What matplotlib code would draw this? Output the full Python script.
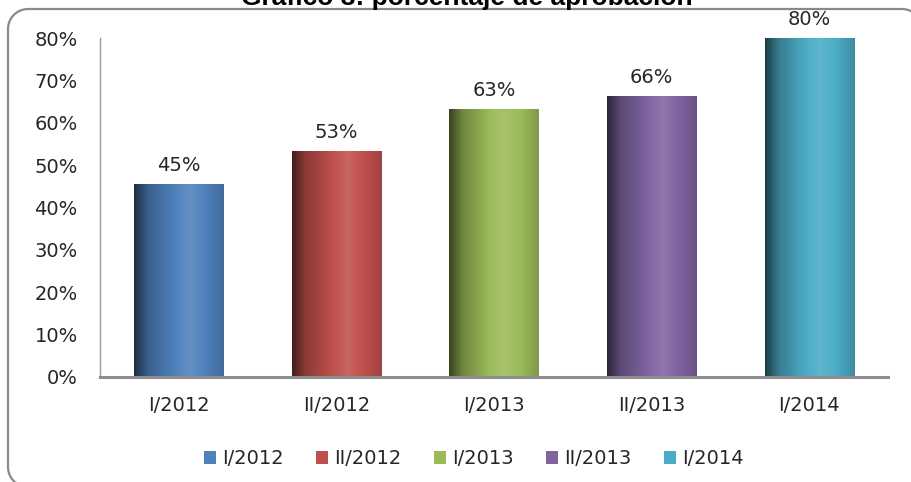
import matplotlib
matplotlib.use("Agg")
import matplotlib.pyplot as plt
import numpy as np
from matplotlib.patches import PathPatch, Patch
from matplotlib.path import Path

categories = ["I/2012", "II/2012", "I/2013", "II/2013", "I/2014"]
values = [0.455, 0.532, 0.632, 0.662, 0.80]
labels = ["45%", "53%", "63%", "66%", "80%"]
colors = ["#4F81BD", "#C0504D", "#9BBB59", "#8064A2", "#4BACC6"]
yticks = [0, 0.1, 0.2, 0.3, 0.4, 0.5, 0.6, 0.7, 0.8]
ytick_labels = ["0%", "10%", "20%", "30%", "40%", "50%", "60%", "70%", "80%"]
title = "Gráfico 3: porcentaje de aprobación"

W, H = 912, 482
fig = plt.figure(figsize=(W / 100, H / 100), dpi=100)
font = "DejaVu Sans"
fs = 14
tc = "#262626"

ax = fig.add_axes([100 / W, 1 - 377 / H, 788 / W, 339 / H])
ax.set_xlim(-0.5, len(categories) - 0.5)
ax.set_ylim(0, 0.8)

def shade(hexcol, n=200):
    base = np.array(matplotlib.colors.to_rgb(hexcol))
    t = np.linspace(0, 1, n)
    pts_t = [0.0, 0.15, 0.45, 0.62, 0.82, 1.0]
    pts_f = [0.35, 0.72, 1.0, 1.1, 0.98, 0.82]
    f = np.interp(t, pts_t, pts_f)
    out = np.empty((n, 3))
    for i, fv in enumerate(f):
        if fv <= 1:
            out[i] = base * fv
        else:
            out[i] = base + (1 - base) * (fv - 1) * 1.2
    return np.clip(out, 0, 1)[None, :, :]

bw = 0.565
for i, (v, c, lab) in enumerate(zip(values, colors, labels)):
    x0, x1 = i - bw / 2, i + bw / 2
    ax.imshow(shade(c), extent=(x0, x1, 0, v), aspect="auto", zorder=2, interpolation="bilinear")
    ax.text(i, v + 0.022, lab, ha="center", va="bottom", fontsize=fs, color=tc, family=font)

ax.set_xlim(-0.5, len(categories) - 0.5)
ax.set_ylim(0, 0.8)
ax.set_xticks(range(len(categories)))
ax.set_xticklabels(categories, fontsize=fs, color=tc, family=font)
ax.set_yticks(yticks)
ax.set_yticklabels(ytick_labels, fontsize=fs, color=tc, family=font)
ax.tick_params(axis="both", length=0)
ax.tick_params(axis="x", pad=14)
ax.tick_params(axis="y", pad=16)
for s in ["top", "right"]:
    ax.spines[s].set_visible(False)
ax.spines["left"].set_color("#9a9a9a")
ax.spines["left"].set_linewidth(1.0)
ax.spines["bottom"].set_color("#8c8c8c")
ax.spines["bottom"].set_linewidth(2.2)

# Legend
handles = [Patch(facecolor=c, edgecolor="none") for c in colors]
leg = fig.legend(handles, categories, loc="center", bbox_to_anchor=(474 / W, 1 - 459 / H),
                 ncol=5, frameon=False, prop={"family": font, "size": fs},
                 handlelength=0.6, handleheight=0.6, handletextpad=0.35, columnspacing=1.65)
for t in leg.get_texts():
    t.set_color(tc)

# Border: rounded rectangle in pixel coordinates (top-left origin), partly off-image
def rounded_rect(x0, y0, x1, y1, r, n=12):
    pts = []
    def arc(cx, cy, a0, a1):
        for a in np.linspace(a0, a1, n):
            pts.append((cx + r * np.cos(a), cy + r * np.sin(a)))
    # y down: convert to figure pixels (y up) later
    arc(x0 + r, y0 + r, np.pi, 1.5 * np.pi)        # top-left
    arc(x1 - r, y0 + r, 1.5 * np.pi, 2 * np.pi)    # top-right
    arc(x1 - r, y1 - r, 0, 0.5 * np.pi)            # bottom-right
    arc(x0 + r, y1 - r, 0.5 * np.pi, np.pi)        # bottom-left
    pts.append(pts[0])
    pts = [(x / W, 1 - y / H) for x, y in pts]
    return Path(pts)

border = PathPatch(rounded_rect(8, 9, 922, 487, 20), transform=fig.transFigure,
                   facecolor="none", edgecolor="#8a8a8a", linewidth=1.6)
fig.patches.append(border)

fig.text(467 / W, 1 - 4.5 / H, title, ha="center", va="baseline", fontsize=19,
         fontweight="bold", family="Liberation Sans", color="black")

fig.savefig("out.png", dpi=100)
